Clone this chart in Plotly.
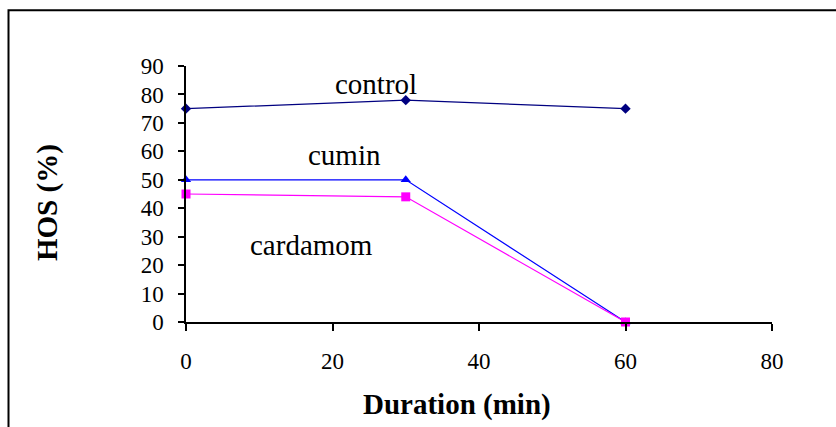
import plotly.graph_objects as go

duration = [0, 30, 60]
control = [75, 78, 75]
cumin = [50, 50, 0]
cardamom = [45, 44, 0]

x_ticks = [0, 20, 40, 60, 80]
y_ticks = [0, 10, 20, 30, 40, 50, 60, 70, 80, 90]

series_labels = ["control", "cumin", "cardamom"]
label_x = [25.9, 21.6, 17.1]
label_y = [83.7, 58.7, 27.1]

FONT = "'Times New Roman', 'Liberation Serif', Tinos, 'DejaVu Serif', serif"

fig = go.Figure()
fig.add_trace(go.Scatter(x=duration, y=control, mode="lines+markers", name="control",
                         line=dict(color="#000080", width=1.2),
                         marker=dict(symbol="diamond", size=8, color="#000080"),
                         cliponaxis=False))
fig.add_trace(go.Scatter(x=duration, y=cumin, mode="lines+markers", name="cumin",
                         line=dict(color="#0000FF", width=1.2),
                         marker=dict(symbol="triangle-up", size=9, color="#0000FF"),
                         cliponaxis=False))
fig.add_trace(go.Scatter(x=duration, y=cardamom, mode="lines+markers", name="cardamom",
                         line=dict(color="#FF00FF", width=1.2),
                         marker=dict(symbol="square", size=9, color="#FF00FF"),
                         cliponaxis=False))

for t, lx, ly in zip(series_labels, label_x, label_y):
    fig.add_annotation(x=lx, y=ly, xref="x", yref="y", text=t, showarrow=False,
                       xanchor="center", yanchor="middle",
                       font=dict(family=FONT, size=29, color="black"))

fig.add_annotation(x=(457 - 186) / 586, y=(322 - 404) / 256, xref="paper", yref="paper",
                   text="<b>Duration (min)</b>", showarrow=False,
                   xanchor="center", yanchor="middle",
                   font=dict(family=FONT, size=29, color="black"))
fig.add_annotation(x=(47 - 186) / 586, y=(322 - 203) / 256, xref="paper", yref="paper",
                   text="<b>HOS (%)</b>", showarrow=False, textangle=-90,
                   xanchor="center", yanchor="middle",
                   font=dict(family=FONT, size=29, color="black"))

# outer border (left and top visible)
fig.add_shape(type="rect", xref="paper", yref="paper",
              x0=(8.5 - 186) / 586, x1=(845 - 186) / 586,
              y0=(322 - 440) / 256, y1=(322 - 10.3) / 256,
              line=dict(color="black", width=2), fillcolor="rgba(0,0,0,0)", layer="below")

fig.update_layout(
    width=836, height=427,
    margin=dict(l=186, r=64, t=66, b=105),
    paper_bgcolor="white", plot_bgcolor="white",
    showlegend=False,
    font=dict(family=FONT, size=23, color="black"),
    xaxis=dict(range=[0, 80], tickvals=x_ticks, ticks="outside", ticklen=7, tickwidth=1.5,
               tickcolor="black", showline=True, linecolor="black", linewidth=1.5,
               showgrid=False, zeroline=False, ticklabelstandoff=11,
               tickfont=dict(family=FONT, size=23, color="black")),
    yaxis=dict(range=[0, 90], tickvals=y_ticks, ticks="outside", ticklen=6, tickwidth=1.5,
               tickcolor="black", showline=True, linecolor="black", linewidth=1.5,
               showgrid=False, zeroline=False, ticklabelstandoff=10,
               tickfont=dict(family=FONT, size=23, color="black")),
)

fig.write_html("out.html")
